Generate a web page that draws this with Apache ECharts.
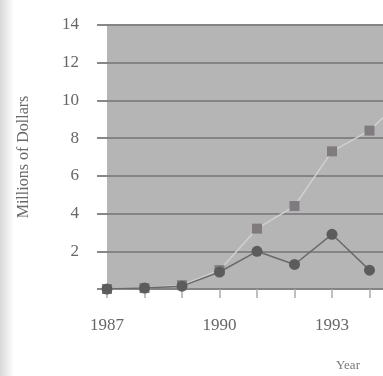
<!DOCTYPE html>
<html><head><meta charset="utf-8">
<script src="https://cdn.jsdelivr.net/npm/echarts@6/dist/echarts.min.js"></script>
<style>html,body{margin:0;padding:0;background:#fff;overflow:hidden;width:383px;height:376px}#c{width:420px;height:376px}</style>
</head><body><div id="c"></div>
<script>
var years = ['1987','1988','1989','1990','1991','1992','1993','1994','1995'];
var squaresSeries = [0, 0.05, 0.2, 1.0, 3.2, 4.4, 7.3, 8.4, 10.3];
var circlesSeries = [0, 0.05, 0.15, 0.9, 2.0, 1.3, 2.9, 1.0, null];
var yTicks = [0, 2, 4, 6, 8, 10, 12, 14];
var shownYears = ['1987','1990','1993'];

var chart = echarts.init(document.getElementById('c'), null, {renderer:'canvas'});
var font = '"Liberation Serif", "DejaVu Serif", serif';
chart.setOption({
  backgroundColor: '#fff',
  animation: false,
  title: {text: 'Year', left: 336, top: 359, textStyle: {fontFamily: font, fontSize: 13, fontWeight: 'normal', color: '#777'}, padding: 0},
  graphic: [{
    type: 'rect', left: 0, top: 0, z: -10,
    shape: {width: 14, height: 376},
    style: {fill: new echarts.graphic.LinearGradient(0,0,1,0,[{offset:0,color:'#d8d8d8'},{offset:1,color:'#ffffff'}])}
  }],
  grid: {left: 107, top: 25, right: 13, bottom: 87, show: true, backgroundColor: '#b6b5b6', borderWidth: 0, containLabel: false},
  xAxis: {
    type: 'category', data: years, boundaryGap: false,
    axisLine: {show: false},
    axisTick: {show: true, alignWithLabel: true, length: 9, lineStyle: {color: '#aaa', width: 1.5}, interval: 0},
    axisLabel: {
      interval: 0, margin: 28, fontFamily: font, fontSize: 17, color: '#666',
      formatter: function (v) { return shownYears.indexOf(v) >= 0 ? v : ''; }
    },
    splitLine: {show: false}
  },
  yAxis: {
    type: 'value', min: 0, max: 14, interval: 2,
    name: 'Millions of Dollars', nameLocation: 'middle', nameGap: 75, nameRotate: 90,
    nameTextStyle: {fontFamily: font, fontSize: 16, color: '#6a6a6a'},
    axisLine: {show: false},
    axisTick: {show: true, length: 10, lineStyle: {color: '#888', width: 2}},
    axisLabel: {margin: 28, fontFamily: font, fontSize: 17, color: '#666',
      formatter: function (v) { return (v === 0) ? '' : (yTicks.indexOf(v) >= 0 ? String(v) : ''); }},
    splitLine: {show: true, lineStyle: {color: '#858385', width: 2}}
  },
  series: [
    {
      type: 'line', data: squaresSeries, symbol: 'rect', symbolSize: 10,
      lineStyle: {color: '#d0d0d2', width: 1.5},
      itemStyle: {color: '#7f7b7f'}, z: 3
    },
    {
      type: 'line', data: circlesSeries, symbol: 'circle', symbolSize: 11,
      lineStyle: {color: '#6a6a6a', width: 1.5},
      itemStyle: {color: '#5c5c5c'}, z: 4
    }
  ]
});
</script>
</body></html>
